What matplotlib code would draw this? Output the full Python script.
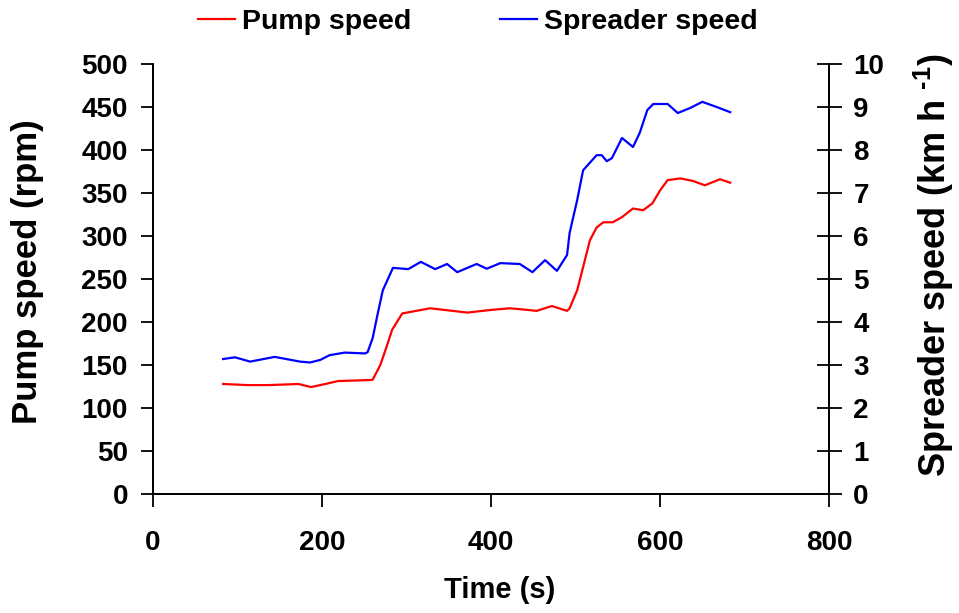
import matplotlib.pyplot as plt

plt.rcParams['font.family'] = ['Liberation Sans', 'DejaVu Sans']
plt.rcParams['font.weight'] = 'bold'
plt.rcParams['mathtext.fontset'] = 'custom'
plt.rcParams['mathtext.rm'] = 'Liberation Sans:bold'
plt.rcParams['mathtext.bf'] = 'Liberation Sans:bold'

# Pump speed (rpm)
pump_t = [83, 112, 137, 172, 187, 204, 219, 257, 260, 269, 276, 283, 295, 328,
          372, 399, 422, 434, 454, 472, 490, 493, 502, 509, 517, 525, 533, 544,
          555, 568, 580, 591, 600, 609, 624, 639, 653, 671, 683]
pump = [128, 126.7, 126.7, 128, 124.4, 128, 131.4, 132.6, 133, 150, 170, 191, 210, 216,
        211, 214, 216, 215, 213, 218.6, 213, 216, 237, 264, 295, 310, 316, 316,
        322, 332, 330, 338, 353, 365, 367, 364, 359, 366, 362]

# Spreader speed (km/h)
spread_t = [83, 97, 115, 144, 174, 186, 198, 209, 227, 251, 254, 260, 266, 272,
            284, 302, 317, 334, 348, 360, 383, 395, 411, 434, 449, 464, 478, 490,
            493, 502, 509, 525, 531, 537, 543, 555, 568, 576, 585, 592, 609, 621,
            636, 650, 667, 683]
spread = [3.14, 3.18, 3.08, 3.19, 3.08, 3.06, 3.12, 3.23, 3.29, 3.27, 3.30, 3.63, 4.2, 4.74,
          5.26, 5.23, 5.4, 5.23, 5.35, 5.16, 5.35, 5.24, 5.37, 5.35, 5.16, 5.44, 5.19, 5.56,
          6.07, 6.84, 7.53, 7.88, 7.88, 7.74, 7.81, 8.28, 8.07, 8.40, 8.93, 9.07, 9.07, 8.86,
          8.98, 9.12, 9.0, 8.88]

fig = plt.figure(figsize=(9.59, 6.13), dpi=100)
ax = fig.add_axes([0.1595, 0.194, 0.705, 0.7016])
ax2 = ax.twinx()

l1, = ax.plot(pump_t, pump, color='#ff0000', lw=1.6)
l2, = ax2.plot(spread_t, spread, color='#0000ff', lw=1.6)

ax.set_xlim(0, 800)
ax.set_ylim(0, 500)
ax2.set_ylim(0, 10)
ax.set_xticks(range(0, 801, 200))
ax.set_yticks(range(0, 501, 50))
ax2.set_yticks(range(0, 11, 1))

for a in (ax, ax2):
    a.spines['top'].set_visible(False)
    for s in a.spines.values():
        s.set_linewidth(1.3)
ax.tick_params(axis='both', direction='out', length=9, width=1.3, labelsize=20, pad=9)
ax.tick_params(axis='x', pad=17)
ax2.tick_params(axis='y', direction='inout', length=18, width=1.3, labelsize=20, pad=8.5)

# axis titles
fig.text(500 / 959, 1 - 590 / 613, 'Time (s)', fontsize=21, fontweight='bold',
         ha='center', va='center')
fig.text(28 / 959, 1 - 272 / 613, 'Pump speed (rpm)', fontsize=25, fontweight='bold',
         rotation=90, ha='center', va='center')
fig.text(934 / 959, 1 - 265 / 613, r'Spreader speed (km h $^{\text{-1}}$)', fontsize=26,
         fontweight='bold', rotation=90, ha='center', va='center')

fig.legend([l1, l2], ['Pump speed', 'Spreader speed'], loc='center',
           bbox_to_anchor=(478 / 959, 0.964), ncol=2, frameon=False, fontsize=20.5,
           handlelength=1.3, handletextpad=0.25, columnspacing=3.1)

fig.savefig('out.png', dpi=100)
